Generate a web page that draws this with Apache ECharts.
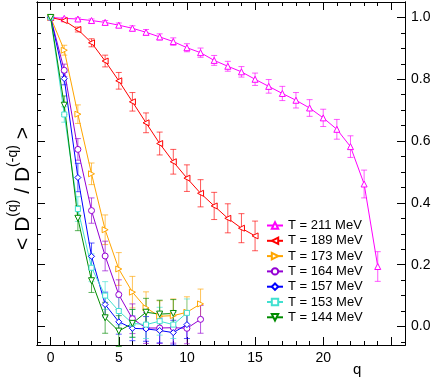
<!DOCTYPE html>
<html>
<head>
<meta charset="utf-8">
<script src="https://cdn.jsdelivr.net/npm/echarts@6/dist/echarts.min.js"></script>
<style>
  html, body { margin: 0; padding: 0; background: #fff; }
  #chart { width: 436px; height: 379px; }
</style>
</head>
<body>
<div id="chart"></div>
<script>
// tick labels
var xTickLabels = [0, 5, 10, 15, 20];
var xMajorTicks = [0, 5, 10, 15, 20, 25];
var yTickLabels = [0, 0.2, 0.4, 0.6, 0.8, 1.0];

// series: temperature, q values, ratio, error
var names = ['T = 211 MeV', 'T = 189 MeV', 'T = 173 MeV', 'T = 164 MeV', 'T = 157 MeV', 'T = 153 MeV', 'T = 144 MeV'];

var q211 = [0,1,2,3,4,5,6,7,8,9,10,11,12,13,14,15,16,17,18,19,20,21,22,23,24];
var v211 = [1.0, 0.997, 0.995, 0.99, 0.984, 0.975, 0.965, 0.952, 0.937, 0.922, 0.902, 0.886, 0.861, 0.842, 0.824, 0.8, 0.777, 0.754, 0.732, 0.707, 0.675, 0.638, 0.582, 0.461, 0.194];
var e211 = [0, 0.003, 0.004, 0.005, 0.006, 0.007, 0.008, 0.009, 0.01, 0.012, 0.013, 0.015, 0.016, 0.016, 0.017, 0.02, 0.022, 0.023, 0.025, 0.027, 0.028, 0.032, 0.035, 0.045, 0.048];

var q189 = [0,1,2,3,4,5,6,7,8,9,10,11,12,13,14,15];
var v189 = [1.0, 0.99, 0.961, 0.918, 0.859, 0.795, 0.727, 0.659, 0.592, 0.533, 0.48, 0.431, 0.39, 0.35, 0.318, 0.293];
var e189 = [0, 0.004, 0.008, 0.013, 0.019, 0.027, 0.03, 0.032, 0.037, 0.04, 0.043, 0.044, 0.044, 0.047, 0.047, 0.048];

var q173 = [0,1,2,3,4,5,6,7,8,9,10,11];
var v173 = [1.0, 0.894, 0.687, 0.494, 0.313, 0.186, 0.111, 0.06, 0.033, 0.035, 0.046, 0.073];
var e173 = [0, 0.016, 0.03, 0.035, 0.048, 0.053, 0.051, 0.052, 0.05, 0.054, 0.05, 0.048];

var q164 = [0,1,2,3,4,5,6,7,8,9,10,11];
var v164 = [1.0, 0.829, 0.573, 0.375, 0.228, 0.103, 0.025, -0.005, -0.005, -0.004, -0.006, 0.023];
var e164 = [0, 0.02, 0.035, 0.041, 0.048, 0.048, 0.048, 0.05, 0.05, 0.05, 0.05, 0.045];

var q157 = [0,1,2,3,4,5,6,7,8,9,10];
var v157 = [1.0, 0.802, 0.482, 0.227, 0.071, 0.015, -0.006, -0.008, -0.013, -0.02, 0.006];
var e157 = [0, 0.02, 0.046, 0.043, 0.04, 0.04, 0.04, 0.04, 0.04, 0.04, 0.045];

var q153 = [0,1,2,3,4,5,6,7,8,9,10];
var v153 = [1.0, 0.686, 0.38, 0.19, 0.1, 0.05, 0.01, 0.006, 0.017, 0.006, 0.044];
var e153 = [0, 0.025, 0.04, 0.045, 0.045, 0.045, 0.045, 0.045, 0.045, 0.045, 0.045];

var q144 = [0,1,2,3,4,5,6,7,8,9];
var v144 = [1.0, 0.716, 0.35, 0.148, 0.028, -0.015, 0.01, 0.046, 0.04, 0.042];
var e144 = [0, 0.03, 0.04, 0.038, 0.05, 0.05, 0.045, 0.045, 0.045, 0.045];

var sets = [
  {q: q211, v: v211, e: e211, color: '#ff00ff', symbol: 'triangle', rot: 0},
  {q: q189, v: v189, e: e189, color: '#ff0000', symbol: 'triangle', rot: 90},
  {q: q173, v: v173, e: e173, color: '#ffa500', symbol: 'triangle', rot: -90},
  {q: q164, v: v164, e: e164, color: '#9400d3', symbol: 'circle', rot: 0},
  {q: q157, v: v157, e: e157, color: '#0000ff', symbol: 'diamond', rot: 0},
  {q: q153, v: v153, e: e153, color: '#40e0d0', symbol: 'rect', rot: 0},
  {q: q144, v: v144, e: e144, color: '#008b00', symbol: 'triangle', rot: 180}
];

var font = 'Liberation Sans, Arial, Helvetica, sans-serif';

function range(a, b, step){
  var out = [];
  for(var i = 0; a + i * step <= b + 1e-9; i++){
    out.push(+(a + i * step).toFixed(4));
  }
  return out;
}

// error bars with caps
function errRender(params, api){
  var x = api.value(0), y = api.value(1), e = api.value(2);
  if(!e){ return null; }
  var top = api.coord([x, y + e]);
  var bot = api.coord([x, y - e]);
  var hw = 3;
  var st = {stroke: api.visual('color'), lineWidth: 1, opacity: 0.65};
  return {
    type: 'group',
    children: [
      {type: 'line', shape: {x1: top[0], y1: top[1], x2: bot[0], y2: bot[1]}, style: st},
      {type: 'line', shape: {x1: top[0] - hw, y1: top[1], x2: top[0] + hw, y2: top[1]}, style: st},
      {type: 'line', shape: {x1: bot[0] - hw, y1: bot[1], x2: bot[0] + hw, y2: bot[1]}, style: st}
    ]
  };
}

var series = [];
sets.forEach(function(s, i){
  var pts = [], errs = [];
  for(var k = 0; k < s.q.length; k++){
    pts.push([s.q[k], s.v[k]]);
    errs.push([s.q[k], s.v[k], s.e[k]]);
  }
  series.push({
    name: 'err' + i,
    type: 'custom',
    renderItem: errRender,
    itemStyle: {color: s.color},
    data: errs,
    z: 2
  });
  series.push({
    name: names[i],
    type: 'line',
    data: pts,
    color: s.color,
    symbol: s.symbol,
    symbolRotate: s.rot,
    symbolSize: s.symbol === 'rect' ? 5 : 6,
    showSymbol: true,
    lineStyle: {color: s.color, width: 1},
    itemStyle: {color: '#fff', borderColor: s.color, borderWidth: 1},
    z: 3
  });
});

var axisLine = {show: true, onZero: false, lineStyle: {color: '#000', width: 1}};

var chart = echarts.init(document.getElementById('chart'));
chart.setOption({
  animation: false,
  backgroundColor: '#fff',
  grid: {left: 37, right: 31, top: 2, bottom: 34, outerBoundsMode: 'none'},
  legend: {
    orient: 'vertical',
    left: 266,
    top: 219,
    padding: 0,
    itemWidth: 16,
    itemHeight: 8,
    itemGap: 2.3,
    itemTextGap: 4,
    data: names,
    textStyle: {fontFamily: font, fontSize: 13, lineHeight: 13, color: '#000'}
  },
  xAxis: [
    {type: 'value', position: 'bottom', min: -1, max: 26, axisLine: axisLine,
     axisTick: {inside: true, length: 8, customValues: xMajorTicks, lineStyle: {color: '#000'}},
     axisLabel: {customValues: xTickLabels, fontFamily: font, fontSize: 14, color: '#000', margin: 6},
     splitLine: {show: false}},
    {type: 'value', position: 'bottom', min: -1, max: 26, axisLine: axisLine,
     axisTick: {inside: true, length: 4, customValues: range(0, 26, 1), lineStyle: {color: '#000'}},
     axisLabel: {show: false}, splitLine: {show: false}},
    {type: 'value', position: 'top', min: -1, max: 26, axisLine: axisLine,
     axisTick: {inside: true, length: 8, customValues: xMajorTicks, lineStyle: {color: '#000'}},
     axisLabel: {show: false}, splitLine: {show: false}},
    {type: 'value', position: 'top', min: -1, max: 26, axisLine: axisLine,
     axisTick: {inside: true, length: 4, customValues: range(0, 26, 1), lineStyle: {color: '#000'}},
     axisLabel: {show: false}, splitLine: {show: false}}
  ],
  yAxis: [
    {type: 'value', position: 'left', min: -0.06, max: 1.05, axisLine: axisLine,
     axisTick: {inside: true, length: 8, customValues: yTickLabels, lineStyle: {color: '#000'}},
     axisLabel: {show: false}, splitLine: {show: false},
     name: '{a|< D}{s|(q)}{a| / D}{s|(-q)}{a| >}',
     nameLocation: 'middle', nameRotate: 90, nameGap: 3,
     nameTextStyle: {
       color: '#000', fontFamily: font, padding: [0, 30, 0, 0],
       rich: {
         a: {fontFamily: font, fontSize: 21, color: '#000', lineHeight: 28, verticalAlign: 'bottom'},
         s: {fontFamily: font, fontSize: 14, color: '#000', lineHeight: 28, verticalAlign: 'top'}
       }
     }},
    {type: 'value', position: 'left', min: -0.06, max: 1.05, axisLine: axisLine,
     axisTick: {inside: true, length: 4, customValues: range(-0.05, 1.05, 0.05), lineStyle: {color: '#000'}},
     axisLabel: {show: false}, splitLine: {show: false}},
    {type: 'value', position: 'right', min: -0.06, max: 1.05, axisLine: axisLine,
     axisTick: {inside: true, length: 8, customValues: yTickLabels, lineStyle: {color: '#000'}},
     axisLabel: {customValues: yTickLabels, fontFamily: font, fontSize: 14, color: '#000', margin: 6,
       formatter: function(v){ return v.toFixed(1); }},
     splitLine: {show: false}},
    {type: 'value', position: 'right', min: -0.06, max: 1.05, axisLine: axisLine,
     axisTick: {inside: true, length: 4, customValues: range(-0.05, 1.05, 0.05), lineStyle: {color: '#000'}},
     axisLabel: {show: false}, splitLine: {show: false}}
  ],
  graphic: [
    {type: 'text', left: 353, top: 362, style: {text: 'q', fontFamily: font, fontSize: 15, fill: '#000'}}
  ],
  series: series
});
</script>
</body>
</html>
